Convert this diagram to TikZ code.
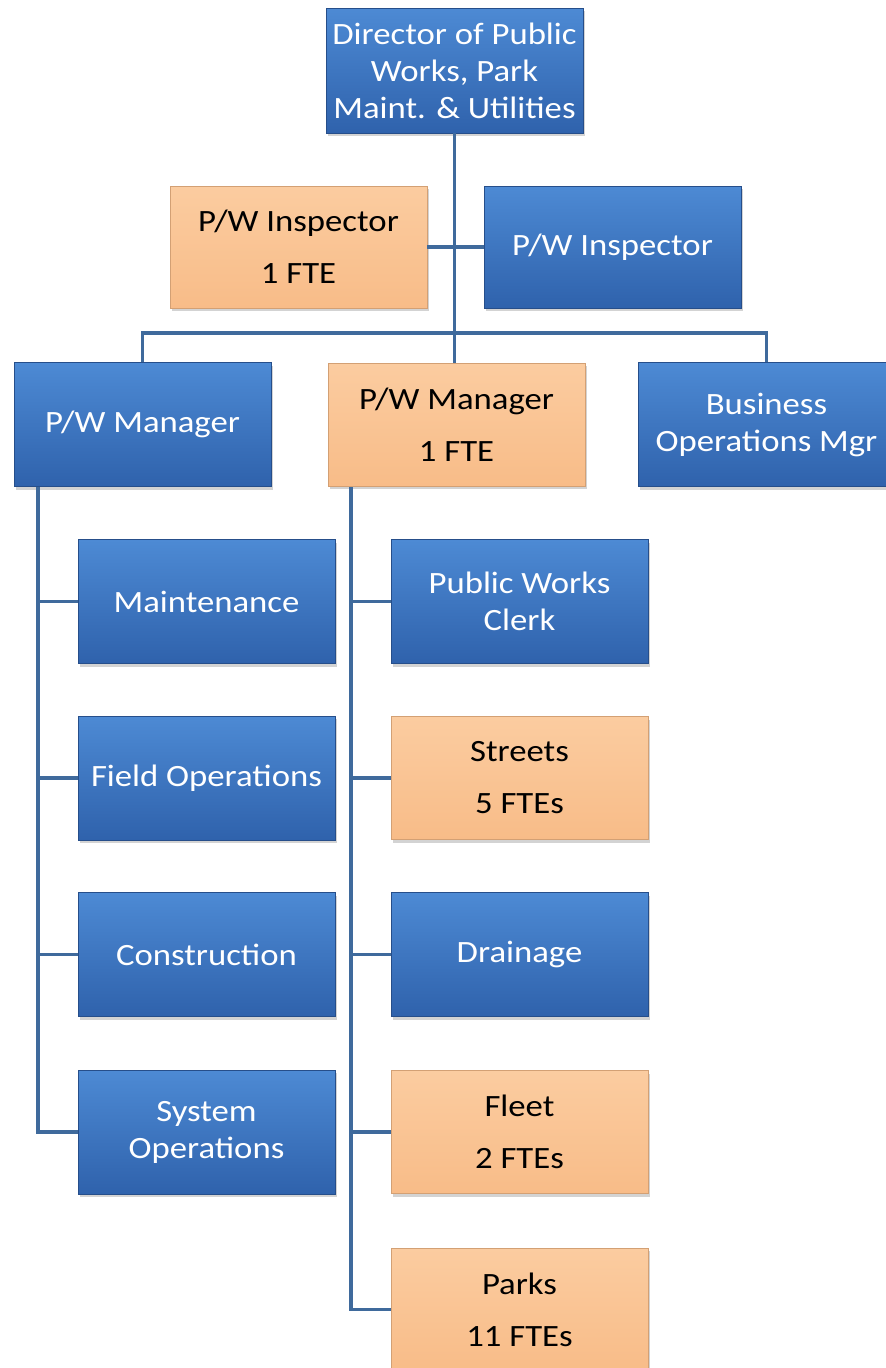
\documentclass[tikz,border=0pt]{standalone}
\usepackage{fontspec}
\setmainfont[FakeStretch=1.12]{Carlito}
\usepackage{tikz}
\usetikzlibrary{positioning,calc,shadows}

\definecolor{boxtop}{HTML}{4D8AD4}
\definecolor{boxbot}{HTML}{2F62AC}
\definecolor{peachtop}{HTML}{FBCCA0}
\definecolor{peachbot}{HTML}{F8BC88}
\definecolor{linkblue}{HTML}{3F6A9C}

\begin{document}
\begin{tikzpicture}[
  x=1pt,y=-1pt,
  unit/.style={rectangle,minimum width=257pt,inner sep=2pt,align=center,
               font=\fontsize{31}{37}\selectfont,
               drop shadow={shadow xshift=2pt,shadow yshift=-3pt,opacity=0.35}},
  blue/.style={unit,minimum height=124pt,text=white,top color=boxtop,bottom color=boxbot,
               draw=boxbot!80!black,line width=0.6pt},
  peach/.style={unit,minimum height=123pt,text=black,top color=peachtop,bottom color=peachbot,
               draw=peachbot!85!black,line width=0.6pt},
  link/.style={draw=linkblue,line width=3.5pt}
]
  \useasboundingbox (0,0) rectangle (886,1368);
  \clip (0,0) rectangle (886,1368);

  % ---------- top of the chart ----------
  \node[blue,minimum height=125pt] (dir) at (454.5,70.5)
    {Director of Public\\ Works, Park\\ Maint. \& Utilities};
  \node[peach,minimum height=122pt] (inspA) at (298.5,247) {P/W Inspector\\[15pt] 1 FTE};
  \node[blue,minimum height=122pt]  (inspB) at (612.5,247) {P/W Inspector};

  \node[blue]  (mgrA) at (142.5,424.5) {P/W Manager};
  \node[peach] (mgrB) at (456.5,424.5) {P/W Manager\\[15pt] 1 FTE};
  \node[blue]  (bus)  at (766.5,424.5) {Business\\ Operations Mgr};

  % ---------- left column ----------
  \node[blue] (maint)  at (206.5,601.5)  {Maintenance};
  \node[blue] (field)  at (206.5,778)    {Field Operations};
  \node[blue] (constr) at (206.5,954.5)  {Construction};
  \node[blue] (sysop)  at (206.5,1132)   {System\\ Operations};

  % ---------- right column ----------
  \node[blue]  (clerk)   at (519.5,601.5) {Public Works\\ Clerk};
  \node[peach] (streets) at (519.5,778)   {Streets\\[15pt] 5 FTEs};
  \node[blue]  (drain)   at (519.5,954.5) {Drainage};
  \node[peach] (fleet)   at (519.5,1132)  {Fleet\\[15pt] 2 FTEs};
  \node[peach] (parks)   at (519.5,1309.5){Parks\\[15pt] 11 FTEs};

  % connectors
  \coordinate (bar) at (454.5,333);
  \coordinate (lA)  at (38,487);
  \coordinate (rA)  at (351,487);

  \path[link] (inspA.east) -- (inspB.west);
  \path[link] (dir.south) -- (dir.south |- mgrB.north);
  \path[link] (mgrA.north) |- (bar) -| (bus.north);

  \path[link] (lA) |- (sysop.west);
  \foreach \n in {maint,field,constr}
    \path[link] (\n.west) -- (\n.west -| lA);

  \path[link] (rA) |- (parks.west);
  \foreach \n in {clerk,streets,drain,fleet}
    \path[link] (\n.west) -- (\n.west -| rA);
\end{tikzpicture}
\end{document}
